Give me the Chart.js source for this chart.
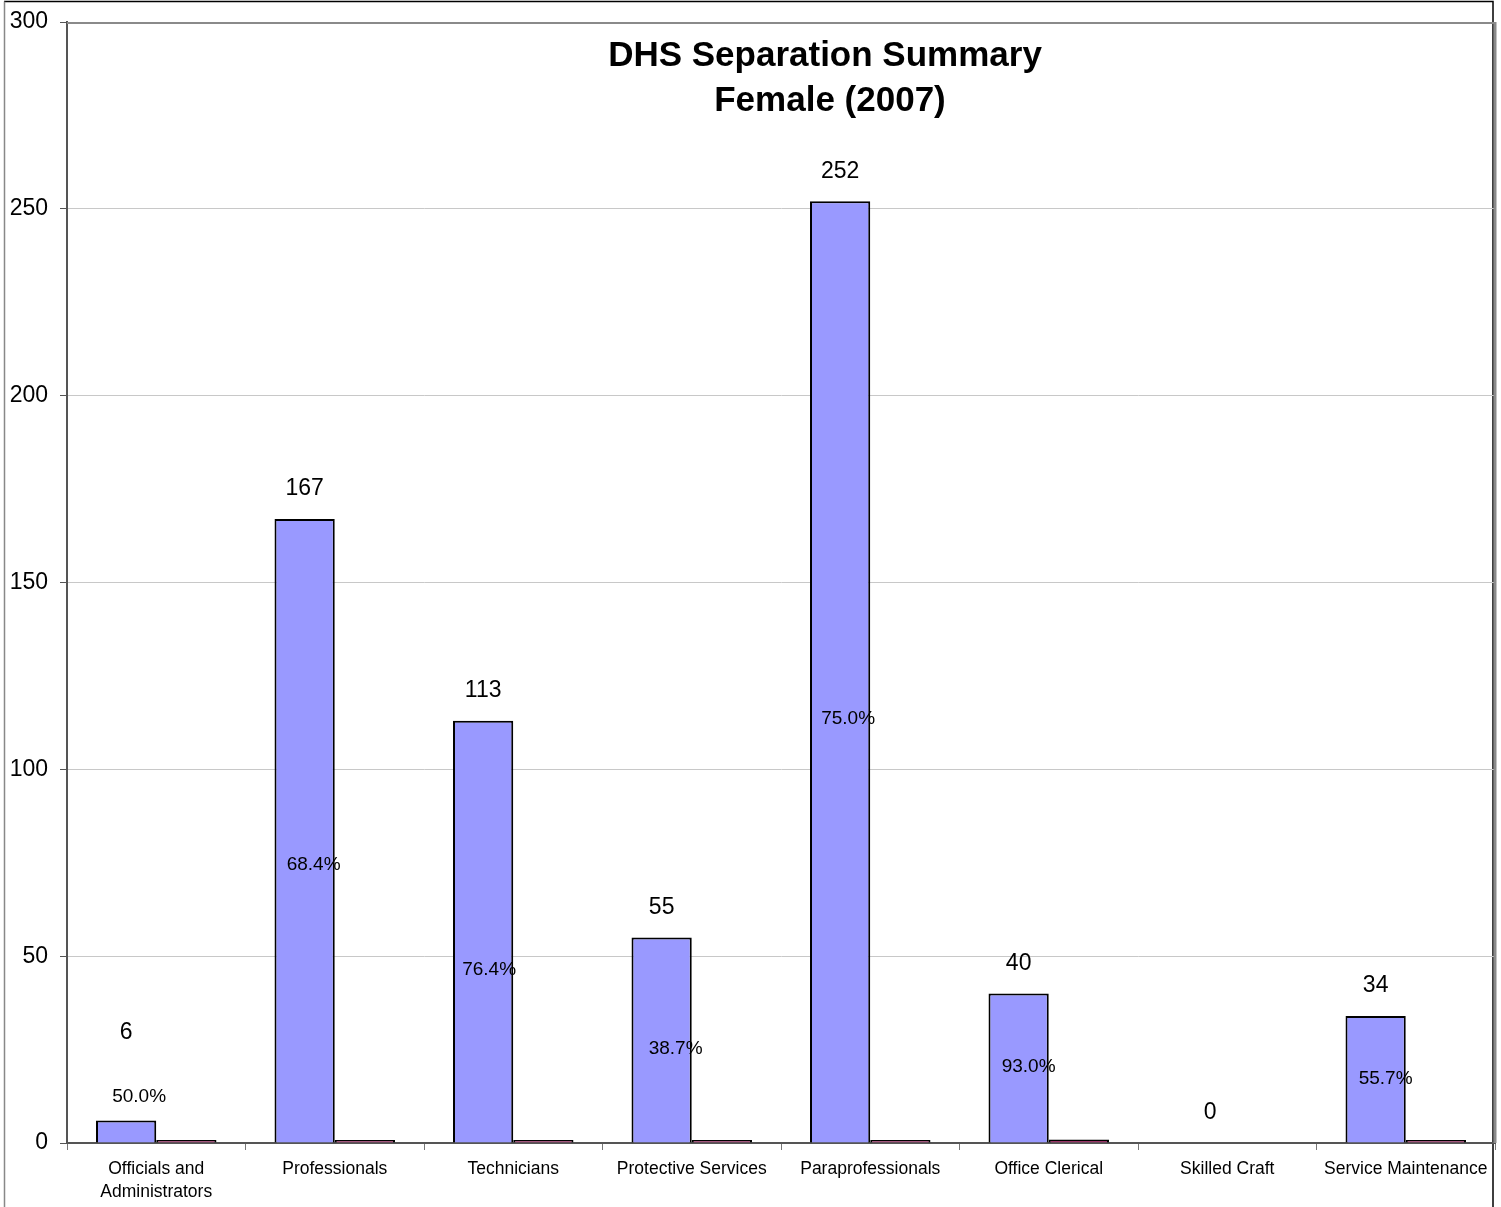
<!DOCTYPE html>
<html>
<head>
<meta charset="utf-8">
<title>DHS Separation Summary - Female (2007)</title>
<script src="https://cdn.jsdelivr.net/npm/chart.js@4/dist/chart.umd.min.js"></script>
<style>
  html, body { margin: 0; padding: 0; background: #fff; }
  canvas { display: block; }
</style>
</head>
<body>
<canvas id="chart" width="1501" height="1207"></canvas>
<script>
const categories = [
  ['Officials and', 'Administrators'],
  'Professionals',
  'Technicians',
  'Protective Services',
  'Paraprofessionals',
  'Office Clerical',
  'Skilled Craft',
  'Service Maintenance',
];
const separations = [6, 167, 113, 55, 252, 40, 0, 34];
const femaleShare = [0.5, 0.684, 0.764, 0.387, 0.75, 0.93, null, 0.557];
const titleLines = ['DHS Separation Summary', 'Female (2007)'];

const FONT = '"Liberation Sans", Arial, sans-serif';

// hand-placed label offsets (px)
const countNudge = [[0, -58], [0, 0], [0, 0], [0, 0], [0, 0], [0, 0], [13, 0], [0, 0]];
const shareNudge = [[13, -35], [9, 34], [6, 38], [14, 9], [8, 47], [10, -1], [0, 0], [10, 0]];

const framePlugin = {
  id: 'frame',
  beforeDraw(chart) {
    const { ctx } = chart;
    ctx.save();
    ctx.fillStyle = '#fff';
    ctx.fillRect(0, 0, chart.width, chart.height);
    ctx.lineWidth = 1.5;
    ctx.strokeStyle = '#000';
    ctx.beginPath();
    ctx.moveTo(4, 1.5);
    ctx.lineTo(1493, 1.5);
    ctx.lineTo(1493, chart.height);
    ctx.stroke();
    ctx.strokeStyle = '#888';
    ctx.beginPath();
    ctx.moveTo(4.5, 1.5);
    ctx.lineTo(4.5, chart.height);
    ctx.stroke();
    ctx.restore();
  },
  afterDatasetsDraw(chart) {
    const { ctx, chartArea: a } = chart;
    ctx.save();
    // plot area border (top and right)
    ctx.strokeStyle = '#8a8a8a';
    ctx.lineWidth = 2;
    ctx.beginPath();
    ctx.moveTo(a.left, a.top + 1);
    ctx.lineTo(a.right, a.top + 1);
    ctx.stroke();
    ctx.lineWidth = 3;
    ctx.beginPath();
    ctx.moveTo(a.right, a.top);
    ctx.lineTo(a.right, a.bottom);
    ctx.stroke();

    // title
    ctx.fillStyle = '#000';
    ctx.textAlign = 'center';
    ctx.textBaseline = 'middle';
    ctx.font = 'bold 35px ' + FONT;
    ctx.fillText(titleLines[0], 825, 56);
    ctx.fillText(titleLines[1], 830, 101);

    const bars = chart.getDatasetMeta(0).data;
    // counts above bars
    ctx.font = '23px ' + FONT;
    bars.forEach((bar, i) => {
      const [dx, dy] = countNudge[i];
      ctx.fillText(String(separations[i]), bar.x + dx, bar.y - 30 + dy);
    });
    // female share inside bars
    ctx.font = '19px ' + FONT;
    bars.forEach((bar, i) => {
      if (femaleShare[i] == null) return;
      const [dx, dy] = shareNudge[i];
      const mid = (bar.y + bar.base) / 2;
      ctx.fillText((femaleShare[i] * 100).toFixed(1) + '%', bar.x + dx, mid + dy);
    });
    ctx.restore();
  }
};

new Chart(document.getElementById('chart'), {
  type: 'bar',
  data: {
    labels: categories,
    datasets: [
      {
        label: 'Separations',
        data: separations,
        backgroundColor: '#9999ff',
        borderColor: '#000',
        borderWidth: 2,
        borderSkipped: 'bottom',
        categoryPercentage: 0.675,
        barPercentage: 1,
      },
      {
        label: 'Female %',
        data: femaleShare,
        backgroundColor: '#993366',
        borderColor: '#000',
        borderWidth: 2,
        borderSkipped: 'bottom',
        minBarLength: 3,
        categoryPercentage: 0.675,
        barPercentage: 1,
      },
    ],
  },
  options: {
    responsive: false,
    devicePixelRatio: 1,
    animation: false,
    layout: { padding: { left: 0, top: 22, right: 6, bottom: 0 } },
    plugins: {
      legend: { display: false },
      title: { display: false },
      tooltip: { enabled: false },
    },
    scales: {
      y: {
        min: 0,
        max: 300,
        ticks: {
          stepSize: 50,
          color: '#000',
          padding: 12,
          font: { family: FONT, size: 23 },
        },
        grid: {
          color: '#c8c8c8',
          lineWidth: 1,
          tickColor: '#555',
          tickLength: 7,
        },
        border: { color: '#555', width: 2 },
        afterFit(scale) {
          scale.width = 67;
          scale.paddingTop = 0;
          scale.paddingBottom = 0;
        },
      },
      x: {
        ticks: {
          color: '#000',
          padding: 7,
          maxRotation: 0,
          autoSkip: false,
          font: { family: FONT, size: 17.5, lineHeight: 1.35 },
        },
        grid: {
          offset: true,
          drawOnChartArea: false,
          tickColor: '#777',
          tickLength: 7,
        },
        border: { color: '#555', width: 2 },
        afterFit(scale) {
          scale.height = 64;
          scale.paddingLeft = 0;
          scale.paddingRight = 0;
        },
      },
    },
  },
  plugins: [framePlugin],
});
</script>
</body>
</html>
